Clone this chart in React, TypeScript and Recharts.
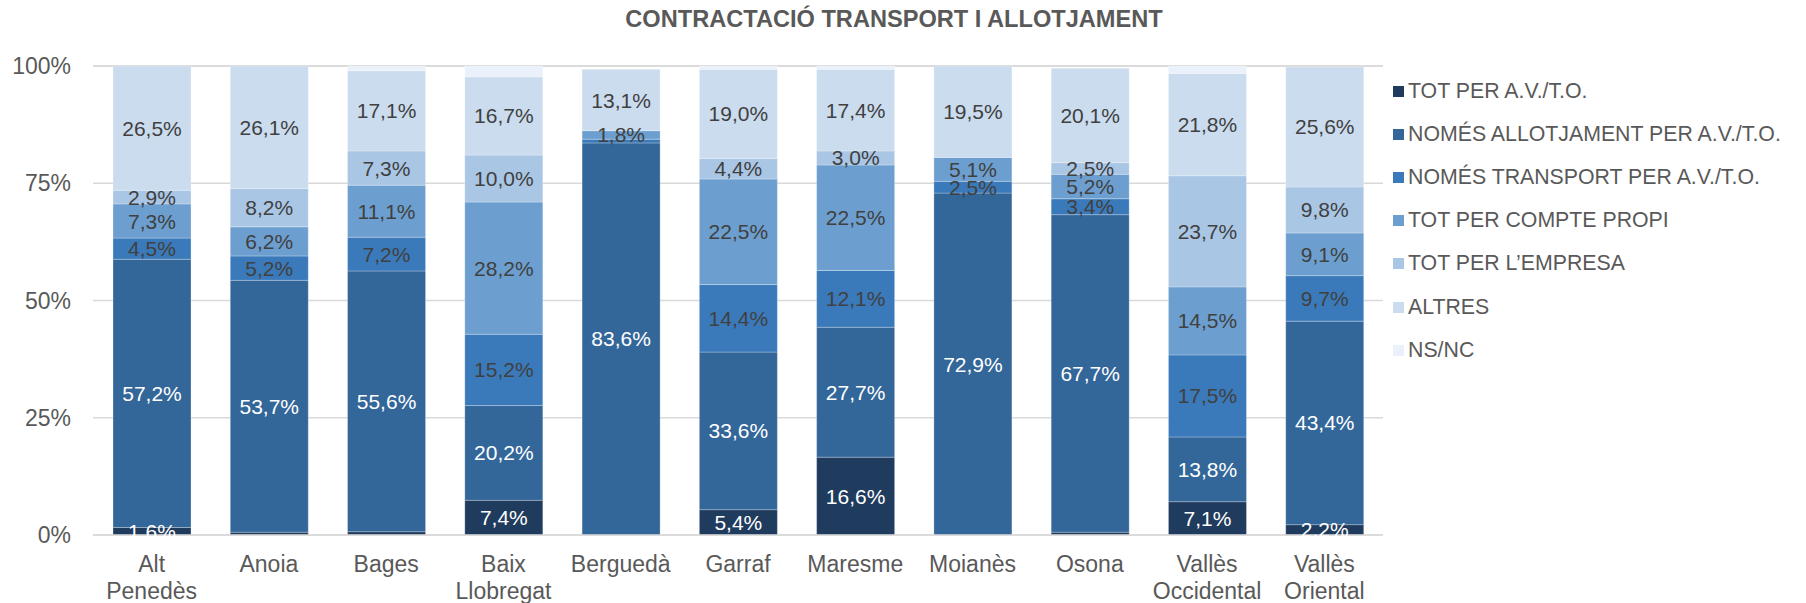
import { Bar, BarChart, CartesianGrid, LabelList, XAxis, YAxis } from "recharts";

const categories = [
  "Alt Penedès",
  "Anoia",
  "Bages",
  "Baix Llobregat",
  "Berguedà",
  "Garraf",
  "Maresme",
  "Moianès",
  "Osona",
  "Vallès Occidental",
  "Vallès Oriental",
];

const totAgencia = [1.6, 0.6, 0.7, 7.4, 0, 5.4, 16.6, 0, 0.6, 7.1, 2.2];
const nomesAllotjament = [57.2, 53.7, 55.6, 20.2, 83.6, 33.6, 27.7, 72.9, 67.7, 13.8, 43.4];
const nomesTransport = [4.5, 5.2, 7.2, 15.2, 0.8, 14.4, 12.1, 2.5, 3.4, 17.5, 9.7];
const totComptePropi = [7.3, 6.2, 11.1, 28.2, 1.8, 22.5, 22.5, 5.1, 5.2, 14.5, 9.1];
const totEmpresa = [2.9, 8.2, 7.3, 10.0, 0, 4.4, 3.0, 0, 2.5, 23.7, 9.8];
const altres = [26.5, 26.1, 17.1, 16.7, 13.1, 19.0, 17.4, 19.5, 20.1, 21.8, 25.6];
const nsnc = [0, 0, 1.0, 2.3, 0, 0.7, 0.7, 0, 0, 1.6, 0];

const yTicks = [0, 25, 50, 75, 100];

const series = [
  { key: "totAgencia", name: "TOT PER A.V./T.O.", values: totAgencia, color: "#1F3B5D", labelColor: "#FFFFFF" },
  { key: "nomesAllotjament", name: "NOMÉS ALLOTJAMENT PER A.V./T.O.", values: nomesAllotjament, color: "#336699", labelColor: "#FFFFFF" },
  { key: "nomesTransport", name: "NOMÉS TRANSPORT PER A.V./T.O.", values: nomesTransport, color: "#3B7ABA", labelColor: "#404040" },
  { key: "totComptePropi", name: "TOT PER COMPTE PROPI", values: totComptePropi, color: "#6C9FCF", labelColor: "#404040" },
  { key: "totEmpresa", name: "TOT PER L’EMPRESA", values: totEmpresa, color: "#AAC6E5", labelColor: "#404040" },
  { key: "altres", name: "ALTRES", values: altres, color: "#CADCEE", labelColor: "#404040" },
  { key: "nsnc", name: "NS/NC", values: nsnc, color: "#EAF1FA", labelColor: "#404040", noLabels: true },
];

const chartData = categories.map((cat, i) => {
  const row: Record<string, string | number> = { cat };
  series.forEach((s) => {
    row[s.key] = s.values[i];
  });
  return row;
});

const FONT = "'Liberation Sans', Arial, sans-serif";

function formatPct(v: number): string {
  return v.toFixed(1).replace(".", ",") + "%";
}

function CategoryTick(props: any) {
  const { x, y, payload } = props;
  const words = String(payload.value).split(" ");
  return (
    <text
      x={x}
      y={y + 29}
      textAnchor="middle"
      fill="#595959"
      fontSize={23}
      fontFamily={FONT}
    >
      {words.map((w, i) => (
        <tspan key={i} x={x} dy={i === 0 ? 0 : 26.5}>
          {w}
        </tspan>
      ))}
    </text>
  );
}

function makeLabel(color: string) {
  return (props: any) => {
    const { x, y, width, height, value } = props;
    if (value == null || value < 1.5) return null;
    return (
      <text
        x={x + width / 2}
        y={y + height / 2}
        textAnchor="middle"
        dominantBaseline="central"
        fill={color}
        fontSize={21}
        fontFamily={FONT}
      >
        {formatPct(value)}
      </text>
    );
  };
}

export default function App() {
  return (
    <div style={{ position: "relative", width: 1806, height: 603, background: "#fff", fontFamily: FONT }}>
      <style>{`body{margin:0}`}</style>
      <div
        style={{
          position: "absolute",
          left: 0,
          top: 7,
          width: 1788,
          textAlign: "center",
          fontSize: 23.6,
          lineHeight: "24px",
          fontWeight: "bold",
          color: "#595959",
        }}
      >
        CONTRACTACIÓ TRANSPORT I ALLOTJAMENT
      </div>
      <BarChart
        width={1806}
        height={603}
        data={chartData}
        margin={{ top: 66, right: 423, bottom: 38, left: 0 }}
        barSize={78}
      >
        <CartesianGrid vertical={false} stroke="#D9D9D9" strokeWidth={1.5} />
        <XAxis
          dataKey="cat"
          height={30}
          tick={<CategoryTick />}
          tickLine={false}
          axisLine={{ stroke: "#D9D9D9", strokeWidth: 1.5 }}
          interval={0}
        />
        <YAxis
          width={93}
          domain={[0, 100]}
          ticks={yTicks}
          tickFormatter={(v) => `${v}%`}
          tick={{ fill: "#595959", fontSize: 23, fontFamily: FONT }}
          tickLine={false}
          axisLine={false}
          tickMargin={16}
        />
        {series.map((s) => (
          <Bar
            key={s.key}
            dataKey={s.key}
            name={s.name}
            stackId="a"
            fill={s.color}
            stroke="#FFFFFF"
            strokeOpacity={0.35}
            strokeWidth={0.75}
            isAnimationActive={false}
          >
            {!s.noLabels && <LabelList dataKey={s.key} content={makeLabel(s.labelColor)} />}
          </Bar>
        ))}
      </BarChart>
      <div style={{ position: "absolute", left: 1393, top: 70 }}>
        {series.map((s, i) => (
          <div
            key={s.key}
            style={{
              position: "absolute",
              left: 0,
              top: 43.1 * i,
              height: 43,
              display: "flex",
              alignItems: "center",
              whiteSpace: "nowrap",
            }}
          >
            <span style={{ width: 11, height: 11, flex: "none", background: s.color, display: "inline-block", marginRight: 4 }} />
            <span style={{ fontSize: 21.3, color: "#595959" }}>{s.name}</span>
          </div>
        ))}
      </div>
    </div>
  );
}
